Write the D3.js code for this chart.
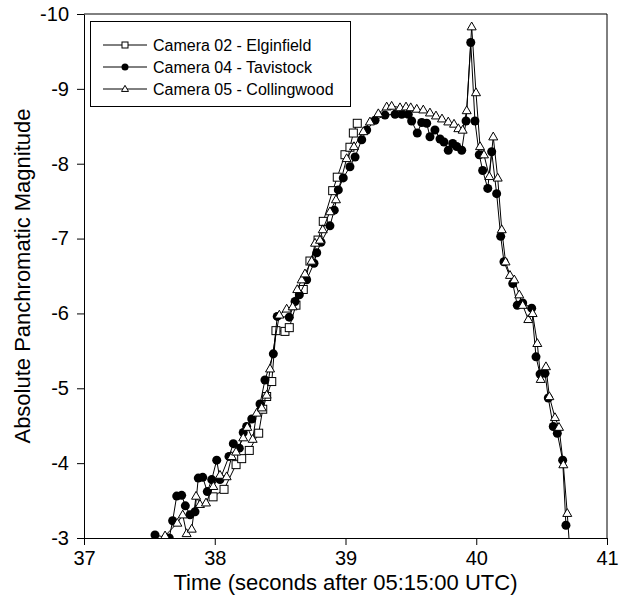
<!DOCTYPE html>
<meta charset="utf-8">
<head>
<style>
  body { margin: 0; background: white; font-family: "Liberation Sans", Arial, sans-serif; }
  svg { display: block; }
</style>
<script src="https://cdn.jsdelivr.net/npm/d3@7"></script>
</head>
<body>
<svg id="chart"></svg>
<script>

// [time (s), magnitude]
let camera02 = [
  [37.987, -3.55], [38.071, -3.65], [38.163, -3.98], [38.206, -4.06], [38.264, -4.17],
  [38.336, -4.40], [38.367, -4.72], [38.397, -4.89], [38.436, -5.09], [38.468, -5.77],
  [38.537, -5.76], [38.570, -5.81], [38.621, -6.11], [38.677, -6.32], [38.728, -6.70],
  [38.790, -6.98], [38.830, -7.23], [38.902, -7.64], [38.937, -7.82], [38.996, -8.12],
  [39.034, -8.22], [39.060, -8.41], [39.090, -8.54]
]

let camera04 = [
  [37.543, -3.04], [37.652, -3.00], [37.678, -3.23], [37.709, -3.56], [37.747, -3.57],
  [37.775, -3.43], [37.811, -3.31], [37.849, -3.35], [37.874, -3.80], [37.908, -3.81],
  [37.943, -3.62], [37.977, -3.78], [38.015, -4.04], [38.040, -3.78], [38.109, -4.09],
  [38.142, -4.26], [38.188, -4.20], [38.218, -4.41], [38.244, -4.49], [38.283, -4.59],
  [38.346, -4.79], [38.384, -5.11], [38.448, -5.46], [38.478, -5.96], [38.570, -5.95],
  [38.614, -6.16], [38.647, -6.25], [38.703, -6.45], [38.759, -6.67], [38.780, -6.81],
  [38.813, -6.95], [38.881, -7.17], [38.914, -7.38], [38.945, -7.65], [38.983, -7.81],
  [39.034, -7.96], [39.073, -8.09], [39.124, -8.32], [39.162, -8.45], [39.226, -8.58],
  [39.302, -8.65], [39.379, -8.66], [39.430, -8.66], [39.480, -8.66], [39.506, -8.57],
  [39.549, -8.41], [39.583, -8.55], [39.621, -8.54], [39.646, -8.36], [39.684, -8.45],
  [39.723, -8.33], [39.753, -8.29], [39.786, -8.18], [39.820, -8.27], [39.850, -8.23],
  [39.889, -8.18], [39.922, -8.57], [39.958, -9.62], [39.990, -8.57], [40.023, -8.12],
  [40.049, -7.91], [40.088, -7.67], [40.118, -8.16], [40.156, -7.60], [40.187, -7.03],
  [40.212, -6.69], [40.279, -6.40], [40.314, -6.11], [40.355, -6.14], [40.424, -6.07],
  [40.457, -5.42], [40.488, -5.19], [40.526, -5.20], [40.551, -4.87], [40.589, -4.49],
  [40.620, -4.40], [40.661, -4.04], [40.686, -3.17]
]

let camera05 = [
  [37.620, -3.03], [37.714, -3.20], [37.755, -3.31], [37.785, -3.06], [37.824, -3.12],
  [37.857, -3.56], [37.887, -3.45], [37.933, -3.47], [37.989, -3.69], [38.040, -3.84],
  [38.091, -3.82], [38.130, -4.09], [38.163, -4.15], [38.218, -4.34], [38.249, -4.48],
  [38.290, -4.32], [38.321, -4.67], [38.359, -4.74], [38.397, -4.91], [38.423, -5.26],
  [38.494, -5.98], [38.550, -6.06], [38.596, -6.09], [38.631, -6.32], [38.665, -6.45],
  [38.690, -6.53], [38.741, -6.70], [38.767, -6.94], [38.805, -6.98], [38.826, -7.12],
  [38.881, -7.36], [38.927, -7.52], [39.009, -8.07], [39.065, -8.23], [39.136, -8.43],
  [39.187, -8.56], [39.251, -8.67], [39.315, -8.76], [39.353, -8.77], [39.417, -8.75],
  [39.463, -8.76], [39.499, -8.75], [39.545, -8.73], [39.595, -8.72], [39.646, -8.68],
  [39.692, -8.64], [39.738, -8.60], [39.786, -8.56], [39.830, -8.53], [39.863, -8.47],
  [39.896, -8.45], [39.927, -8.71], [39.965, -9.83], [39.998, -8.95], [40.029, -8.23],
  [40.059, -8.12], [40.100, -7.83], [40.130, -8.36], [40.164, -7.81], [40.195, -7.12],
  [40.224, -6.69], [40.258, -6.51], [40.291, -6.45], [40.329, -6.25], [40.355, -6.11],
  [40.398, -5.92], [40.431, -6.00], [40.467, -5.60], [40.493, -5.12], [40.533, -5.29],
  [40.559, -4.89], [40.602, -4.61], [40.633, -4.48], [40.666, -3.98], [40.696, -3.33],
  [40.713, -2.90]
]

let seriesNames = ["Camera 02 - Elginfield", "Camera 04 - Tavistock", "Camera 05 - Collingwood"]
let xTicks = [37, 38, 39, 40, 41]
let yTicks = [-3, -4, -5, -6, -7, -8, -9, -10]

let width = 619
let height = 609
let margin = { top: 14, left: 84, right: 12, bottom: 71 }

let svg = d3.select("#chart").attr("width", width).attr("height", height)

let x = d3.scaleLinear().domain([37, 41]).range([margin.left, width - margin.right])
let y = d3.scaleLinear().domain([-3, -10]).range([height - margin.bottom, margin.top])

// clip so the last segment stops at the axis
svg.append("clipPath").attr("id", "plotclip")
  .append("rect")
  .attr("x", x(37)).attr("y", y(-10))
  .attr("width", x(41) - x(37)).attr("height", y(-3) - y(-10))

// axes
let axisX = d3.axisBottom(x).tickValues(xTicks).tickSize(7).tickSizeOuter(0).tickPadding(6)
  .tickFormat(d => String(d))
let axisY = d3.axisLeft(y).tickValues(yTicks).tickSize(7).tickSizeOuter(0).tickPadding(8)
  .tickFormat(d => String(d))

let gx = svg.append("g").attr("transform", `translate(0,${y(-3)})`).call(axisX)
let gy = svg.append("g").attr("transform", `translate(${x(37)},0)`).call(axisY)

for (let g of [gx, gy]) {
  g.selectAll("text").style("font-family", '"Liberation Sans", Arial, sans-serif')
    .style("font-size", "20px").attr("fill", "black")
  g.selectAll("line").attr("stroke", "black")
  g.select(".domain").attr("stroke", "black")
}

// frame top and right
svg.append("line").attr("x1", x(37)).attr("x2", x(41)).attr("y1", y(-10)).attr("y2", y(-10)).attr("stroke", "black")
svg.append("line").attr("x1", x(41)).attr("x2", x(41)).attr("y1", y(-10)).attr("y2", y(-3)).attr("stroke", "black")

// titles
svg.append("text")
  .attr("x", (x(37) + x(41)) / 2).attr("y", 590)
  .attr("text-anchor", "middle")
  .style("font-size", "22px")
  .text("Time (seconds after 05:15:00 UTC)")

svg.append("text")
  .attr("transform", `translate(30,${(y(-3) + y(-10)) / 2}) rotate(-90)`)
  .attr("text-anchor", "middle")
  .style("font-size", "22px")
  .text("Absolute Panchromatic Magnitude")

// markers
function drawMarker(g, shape, cx, cy, s) {
  if (shape == "square") {
    g.append("rect").attr("x", cx - s / 2).attr("y", cy - s / 2).attr("width", s).attr("height", s)
      .attr("fill", "white").attr("stroke", "black").attr("stroke-width", 1)
  } else if (shape == "circle") {
    g.append("circle").attr("cx", cx).attr("cy", cy).attr("r", s / 2)
      .attr("fill", "black")
  } else {
    let h = s * 0.87
    g.append("path")
      .attr("d", `M${cx},${cy - h * 0.6}L${cx + s / 2},${cy + h * 0.4}L${cx - s / 2},${cy + h * 0.4}Z`)
      .attr("fill", "white").attr("stroke", "black").attr("stroke-width", 1)
  }
}

let series = [
  { data: camera02, shape: "square", size: 8 },
  { data: camera04, shape: "circle", size: 9 },
  { data: camera05, shape: "triangle", size: 9 }
]

let line = d3.line().x(d => x(d[0])).y(d => y(d[1]))
let plot = svg.append("g").attr("clip-path", "url(#plotclip)")

series.forEach(s => {
  let g = plot.append("g")
  g.append("path").datum(s.data).attr("d", line)
    .attr("fill", "none").attr("stroke", "black").attr("stroke-width", 1)
  s.data.forEach(d => drawMarker(g, s.shape, x(d[0]), y(d[1]), s.size))
})

// legend
let legend = svg.append("g")
legend.append("rect").attr("x", 90.5).attr("y", 21.5).attr("width", 260).attr("height", 85)
  .attr("fill", "white").attr("stroke", "black").attr("stroke-width", 1)

let legendSizes = [6, 7, 7]
series.forEach((s, i) => {
  let ly = 45 + i * 22
  legend.append("line").attr("x1", 103).attr("x2", 147).attr("y1", ly).attr("y2", ly)
    .attr("stroke", "black")
  drawMarker(legend, s.shape, 125, ly, legendSizes[i])
  legend.append("text").attr("x", 153).attr("y", ly + 5.5)
    .style("font-size", "16px")
    .text(seriesNames[i])
})

</script>
</body>
